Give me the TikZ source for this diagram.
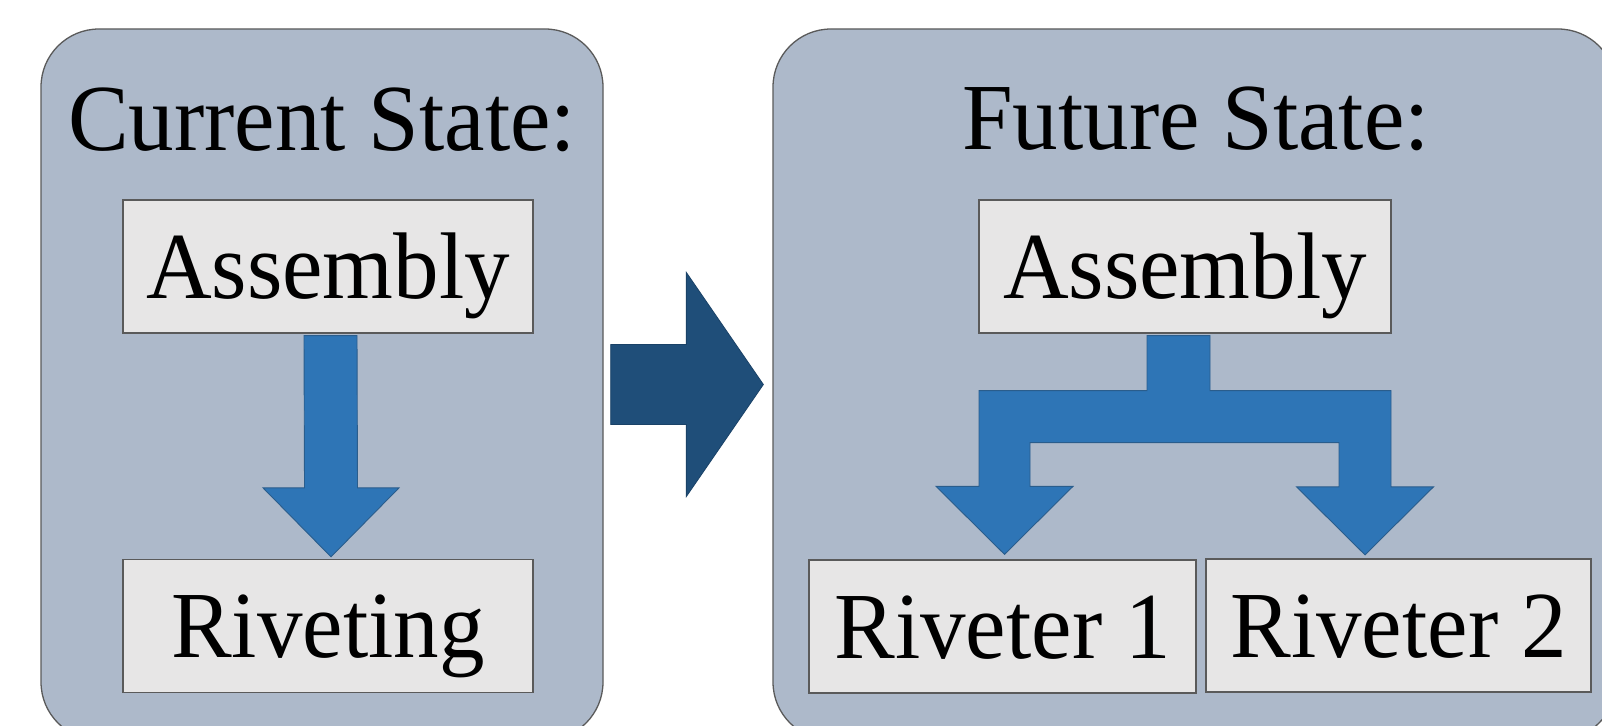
\documentclass[tikz,border=0pt]{standalone}
\usepackage{fontspec}
\setmainfont{Liberation Serif}
\usetikzlibrary{calc}
\definecolor{panelfill}{HTML}{ADB9CA}
\definecolor{panelline}{HTML}{5A5A5A}
\definecolor{boxfill}{HTML}{E7E6E6}
\definecolor{boxline}{HTML}{5A5A5A}
\definecolor{flowblue}{HTML}{2E75B6}
\definecolor{flowline}{HTML}{2A5D8C}
\definecolor{stepblue}{HTML}{1F4E79}
% slightly tall setting of the labels
\newcommand{\tall}[1]{\scalebox{1}[1.04]{#1}}
\begin{document}
\begin{tikzpicture}[x=1pt,y=-1pt,
  panel/.style={draw=panelline, line width=1.3pt, fill=panelfill,
    rounded corners=58pt, inner sep=0pt},
  stagebox/.style={draw=boxline, line width=1.3pt, fill=boxfill, inner sep=0pt,
    text height=98pt, text depth=35pt, minimum height=133pt,
    font=\fontsize{91}{100}\selectfont},
  title/.style={anchor=base, inner sep=0pt, font=\fontsize{91}{100}\selectfont},
  blockarrow/.style={fill=flowblue, draw=flowline, line width=0.9pt, line join=miter},
  bigarrow/.style={fill=stepblue, draw=stepblue!85!black, line width=0.8pt, line join=miter},
]
\useasboundingbox (0,0) rectangle (1602,725);
\clip (0,0) rectangle (1602,725);

% the two state panels
\node[panel, minimum width=562pt, minimum height=711pt] (cur) at (322,384.5) {};
\node[panel, minimum width=843pt, minimum height=711pt] (fut) at (1194.5,384.5) {};

% panel headings
\node[title] (curT) at ($(cur.north)+(0,122)$) {\tall{Current State:}};
\node[title] (futT) at ($(fut.north)+(1.5,121)$) {\tall{Future State:}};

% current state steps
\node[stagebox, minimum width=410pt] (asm1) at (328,266.5) {\tall{Assembly}};
\node[stagebox, minimum width=410pt] (riv) at (328,626) {\tall{Riveting}};

% future state steps
\node[stagebox, minimum width=412pt] (asm2) at (1185,266.5) {\tall{Assembly}};
\node[stagebox, minimum width=387pt] (r1) at (1002.5,626.5) {\tall{Riveter 1}};
\node[stagebox, minimum width=385pt] (r2) at (1398.5,625.5) {\tall{Riveter 2}};

% single flow: Assembly -> Riveting
\coordinate (ls) at ($(asm1.south)+(2.5,2)$);
\coordinate (lt) at ($(riv.north)+(3,-2)$);
\draw[blockarrow] ($(ls)+(-26.5,0)$) -- ($(ls)+(26.5,0)$)
  -- ($(lt)+(26.5,-69)$) -- ($(lt)+(68,-69)$) -- (lt)
  -- ($(lt)+(-68,-69)$) -- ($(lt)+(-26.5,-69)$) -- cycle;

% transition arrow between the panels
\coordinate (ms) at ($(cur.east)+(7,0)$);
\coordinate (mt) at ($(fut.west)+(-9,0)$);
\draw[bigarrow] ($(ms)+(0,-40)$) -- ($(mt)+(-77,-40)$) -- ($(mt)+(-77,-112)$)
  -- (mt) -- ($(mt)+(-77,112)$) -- ($(mt)+(-77,40)$) -- ($(ms)+(0,40)$) -- cycle;

% split flow: Assembly -> Riveter 1 and Riveter 2
\coordinate (ftop) at ($(asm2.south)+(0,2)$);
\coordinate (barT) at ($(ftop)+(0,55)$);
\coordinate (barB) at ($(ftop)+(0,107)$);
\coordinate (tipL) at ($(r1.north)+(2,-5)$);
\coordinate (tipR) at ($(r2.north)+(-33.5,-3.5)$);
\draw[blockarrow] ($(ftop)+(-38,0)$) -- ($(ftop)+(25,0)$)
  -- ($(ftop |- barT)+(25,0)$) -- ($(tipR |- barT)+(26,0)$)
  -- ($(tipR)+(26,-68)$) -- ($(tipR)+(68.5,-68)$) -- (tipR)
  -- ($(tipR)+(-68.5,-68)$) -- ($(tipR)+(-26,-68)$)
  -- ($(tipR |- barB)+(-26,0)$) -- ($(tipL |- barB)+(25.5,0)$)
  -- ($(tipL)+(25.5,-68)$) -- ($(tipL)+(68.5,-68)$) -- (tipL)
  -- ($(tipL)+(-68.5,-68)$) -- ($(tipL)+(-25.5,-68)$)
  -- ($(tipL |- barT)+(-25.5,0)$) -- ($(ftop |- barT)+(-38,0)$) -- cycle;
\end{tikzpicture}
\end{document}
